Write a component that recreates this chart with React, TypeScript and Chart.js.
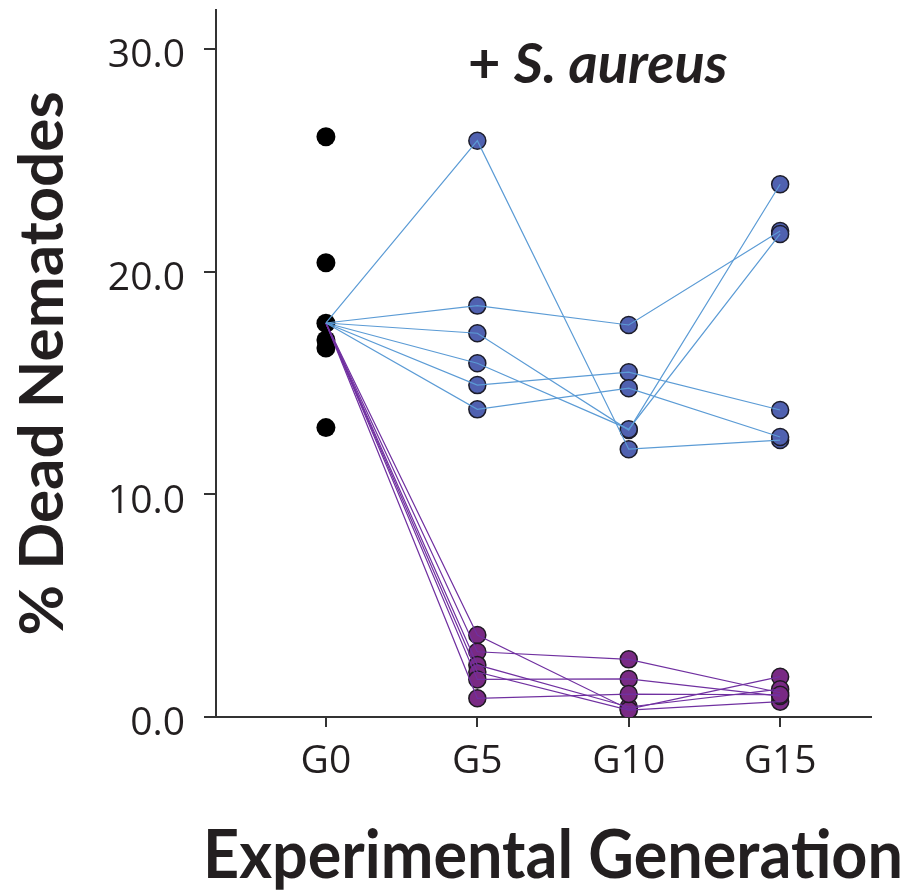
import React, { useEffect, useRef } from "react";
import { Chart, registerables } from "chart.js";

Chart.register(...registerables);

// Experimental generations (x positions) and their labels
const generations = [0, 5, 10, 15];
const generationLabels = ["G0", "G5", "G10", "G15"];
const yTicks = [0, 10, 20, 30];

// Ancestral (G0) replicate values
const g0Values = [26.07, 20.41, 17.69, 16.94, 16.58, 13.0];

// Control lineages (blue): G0, G5, G10, G15
const blue1 = [17.7, 25.89, 12.03, 12.44];
const blue2 = [17.7, 18.48, 17.61, 21.83];
const blue3 = [17.7, 17.24, 12.89, 23.93];
const blue4 = [17.7, 15.89, 12.93, 21.7];
const blue5 = [17.7, 14.91, 15.49, 13.79];
const blue6 = [17.7, 13.82, 14.77, 12.58];

// Evolved lineages (purple): G0, G5, G10, G15
const purple1 = [17.7, 3.68, 0.35, 1.81];
const purple2 = [17.7, 2.93, 2.59, 1.09];
const purple3 = [17.7, 2.34, 0.45, 1.25];
const purple4 = [17.7, 2.02, 0.31, 0.69];
const purple5 = [17.7, 1.69, 1.71, 0.94];
const purple6 = [17.7, 0.84, 1.03, 1.0];

const blueSeries = [blue1, blue2, blue3, blue4, blue5, blue6];
const purpleSeries = [purple1, purple2, purple3, purple4, purple5, purple6];

const X_TITLE = "Experimental Generation";
const Y_TITLE = "% Dead Nematodes";

const BLUE_LINE = "#5b9bd5";
const BLUE_FILL = "#5061b0";
const PURPLE_LINE = "#7030a0";
const PURPLE_FILL = "#792a84";
const TEXT = "#231f20";
const AXIS = "#333333";

const toPoints = (arr: number[]) => arr.map((v, i) => ({ x: generations[i], y: v }));
const laterPoints = (series: number[][]) =>
  series.flatMap((arr) => arr.slice(1).map((v, i) => ({ x: generations[i + 1], y: v })));

const textPlugin = {
  id: "extraText",
  afterDraw(chart: any) {
    const { ctx, chartArea } = chart;
    ctx.save();
    ctx.fillStyle = TEXT;
    ctx.textBaseline = "alphabetic";
    ctx.textAlign = "left";
    // "+ S. aureus" condition label
    const x = chartArea.left + 252;
    const y = chartArea.top + 73;
    ctx.font = "bold 56px Lato";
    const plus = "+ ";
    ctx.fillText(plus, x, y);
    const w = ctx.measureText(plus).width;
    ctx.font = "italic bold 56px Lato";
    ctx.fillText("S. aureus", x + w, y);
    // x-axis title
    ctx.font = "bold 66px Lato";
    ctx.textAlign = "center";
    ctx.fillText(X_TITLE, chartArea.left + 337, chartArea.bottom + 161, 700);
    ctx.restore();
  },
};

export default function App() {
  const canvasRef = useRef<HTMLCanvasElement | null>(null);

  useEffect(() => {
    if (!canvasRef.current) return;

    const lineDatasets: any[] = [
      ...blueSeries.map((arr) => ({
        type: "line",
        data: toPoints(arr),
        borderColor: BLUE_LINE,
        borderWidth: 1.2,
        pointRadius: 0,
        fill: false,
        tension: 0,
        order: 1,
      })),
      ...purpleSeries.map((arr) => ({
        type: "line",
        data: toPoints(arr),
        borderColor: PURPLE_LINE,
        borderWidth: 1.2,
        pointRadius: 0,
        fill: false,
        tension: 0,
        order: 1,
      })),
    ];

    const pointDatasets: any[] = [
      {
        type: "scatter",
        data: g0Values.map((v) => ({ x: generations[0], y: v })),
        backgroundColor: "#000000",
        borderColor: "#000000",
        borderWidth: 0,
        pointRadius: 9.5,
        order: 3,
      },
      {
        type: "scatter",
        data: laterPoints(blueSeries),
        backgroundColor: BLUE_FILL,
        borderColor: "#1c1c2a",
        borderWidth: 1.5,
        pointRadius: 8.5,
        order: 2,
      },
      {
        type: "scatter",
        data: laterPoints(purpleSeries),
        backgroundColor: PURPLE_FILL,
        borderColor: "#1f1a22",
        borderWidth: 1.5,
        pointRadius: 8.5,
        order: 2,
      },
    ];

    const chart = new Chart(canvasRef.current, {
      type: "scatter",
      data: { datasets: [...pointDatasets, ...lineDatasets] },
      plugins: [textPlugin],
      options: {
        animation: false,
        responsive: false,
        layout: { padding: { top: 10, right: 35, bottom: 0, left: 0 } },
        plugins: { legend: { display: false }, tooltip: { enabled: false } },
        scales: {
          x: {
            type: "linear",
            min: -3.63,
            max: 18,
            afterBuildTicks: (scale: any) => {
              scale.ticks = generations.map((v) => ({ value: v }));
            },
            afterFit: (scale: any) => {
              scale.height = 173;
              scale.paddingLeft = 0;
              scale.paddingRight = 0;
            },
            ticks: {
              callback: (v: any) => {
                const i = generations.indexOf(Number(v));
                return i >= 0 ? generationLabels[i] : "";
              },
              font: { family: "'Open Sans'", size: 39 },
              color: TEXT,
              padding: 11,
              maxRotation: 0,
              autoSkip: false,
            },
            grid: {
              drawOnChartArea: false,
              drawTicks: true,
              tickLength: 10,
              color: AXIS,
              lineWidth: 2,
            },
            border: { display: true, color: AXIS, width: 2 },
            title: { display: false, text: X_TITLE },
          },
          y: {
            type: "linear",
            min: 0,
            max: 31.76,
            afterBuildTicks: (scale: any) => {
              scale.ticks = yTicks.map((v) => ({ value: v }));
            },
            afterFit: (scale: any) => {
              scale.width = 216;
              scale.paddingTop = 0;
              scale.paddingBottom = 0;
            },
            ticks: {
              callback: (v: any) => Number(v).toFixed(1),
              font: { family: "'Open Sans'", size: 39 },
              color: TEXT,
              padding: 19,
              labelOffset: 7,
            },
            grid: {
              drawOnChartArea: false,
              drawTicks: true,
              tickLength: 12,
              color: AXIS,
              lineWidth: 2,
            },
            border: { display: true, color: AXIS, width: 2 },
            title: {
              display: true,
              text: Y_TITLE,
              color: TEXT,
              font: { family: "Lato", size: 62, weight: "bold", lineHeight: 1.2 },
              padding: { top: 6, bottom: 0 },
            },
          },
        },
      },
    } as any);

    return () => chart.destroy();
  }, []);

  return (
    <div style={{ position: "absolute", left: 0, top: 0, width: 906, height: 890 }}>
      <canvas ref={canvasRef} width={906} height={890} />
    </div>
  );
}
